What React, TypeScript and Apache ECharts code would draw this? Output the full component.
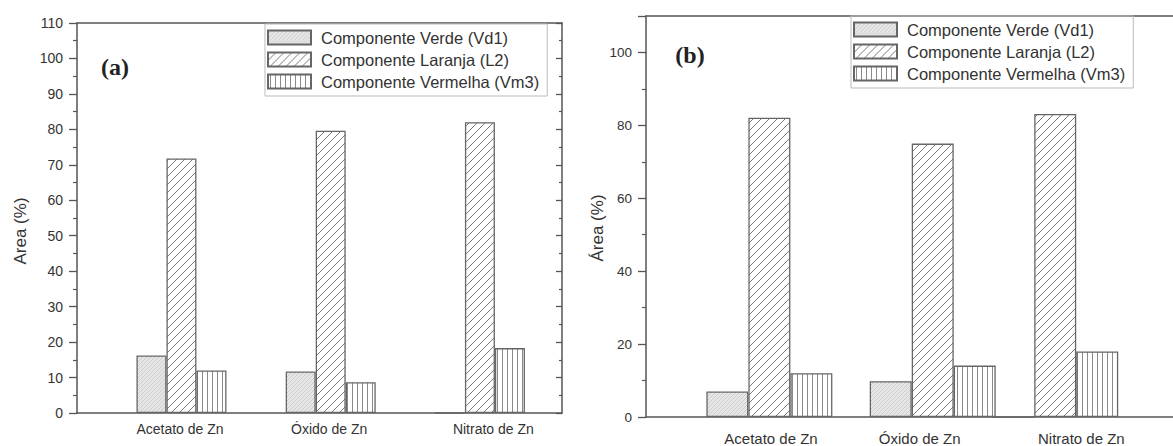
import React, { useEffect, useRef } from "react";
import * as echarts from "echarts";

// ---- data ----
const categories = ["Acetato de Zn", "Óxido de Zn", "Nitrato de Zn"];
const seriesNames = ["Componente Verde (Vd1)", "Componente Laranja (L2)", "Componente Vermelha (Vm3)"];

// panel (a)
const verdeA = [16.2, 11.7, 0];
const laranjaA = [71.8, 79.6, 82.0];
const vermelhaA = [12.0, 8.7, 18.3];
const groupXA = [1, 2, 3];

// panel (b)
const verdeB = [7.0, 9.8, 0];
const laranjaB = [82.1, 75.0, 83.1];
const vermelhaB = [12.0, 14.1, 18.0];
const groupXB = [1, 2, 2.75];

const yTicksA = [0, 110, 10];
const yTicksB = [0, 110, 20];

// ---- styles ----
const svgUrl = (s: string) => "data:image/svg+xml;charset=utf-8," + encodeURIComponent(s);
const patVerde = {
  image: svgUrl(
    "<svg xmlns='http://www.w3.org/2000/svg' width='4' height='4'><rect width='4' height='4' fill='#e6e6e6'/><path d='M0 4L4 0M-1 1L1 -1M3 5L5 3' stroke='#c6c6c6' stroke-width='0.8'/></svg>"
  ),
  repeat: "repeat",
  imageWidth: 4,
  imageHeight: 4,
};
const patLaranja = {
  image: svgUrl(
    "<svg xmlns='http://www.w3.org/2000/svg' width='8' height='8'><rect width='8' height='8' fill='#ffffff'/><path d='M0 8L8 0M-1 1L1 -1M7 9L9 7' stroke='#7a7a7a' stroke-width='1'/></svg>"
  ),
  repeat: "repeat",
  imageWidth: 8,
  imageHeight: 8,
};
const patVermelha = {
  image: svgUrl(
    "<svg xmlns='http://www.w3.org/2000/svg' width='5' height='5'><rect width='5' height='5' fill='#ffffff'/><path d='M2.5 0L2.5 5' stroke='#8a8a8a' stroke-width='1'/></svg>"
  ),
  repeat: "repeat",
  imageWidth: 5,
  imageHeight: 5,
};
const patterns = [patVerde, patLaranja, patVermelha];

const AXIS = "#555";
const TXT = "#333";
const FONT = "Liberation Sans, Arial, sans-serif";

const labelXA = [0.99, 1.99, 3.09];
const labelXB = [1.01, 1.92, 2.91];

function nearestName(v: number, arr: number[]) {
  for (let i = 0; i < arr.length; i++) if (Math.abs(arr[i] - v) < 1e-6) return categories[i];
  return "";
}

export default function App() {
  const ref = useRef<HTMLDivElement>(null);
  useEffect(() => {
    if (!ref.current) return;
    const chart = echarts.init(ref.current, null, { renderer: "svg" });

    const mkBars = (vals: number[][], xs: number[], xi: number, yi: number, w: number) =>
      vals.map((v, k) => ({
        type: "bar",
        name: seriesNames[k],
        xAxisIndex: xi,
        yAxisIndex: yi,
        barWidth: w,
        barGap: "0%",
        data: xs.map((x, i) => [x, v[i]]),
        itemStyle: { color: patterns[k], borderColor: "#666", borderWidth: 1.3 },
        emphasis: { disabled: true },
        silent: true,
      }));

    const frameX = (gi: number, min: number, max: number) => ({
      type: "value",
      gridIndex: gi,
      position: "top",
      min,
      max,
      axisLine: { show: true, onZero: false, lineStyle: { color: AXIS, width: 1.5 } },
      axisTick: { show: false },
      axisLabel: { show: false },
      splitLine: { show: false },
    });

    const legendBase = {
      orient: "vertical",
      icon: "rect",
      itemWidth: 43,
      itemHeight: 14,
      itemGap: 5,
      padding: [5, 8, 6, 2],
      borderColor: "#bbb",
      borderWidth: 1,
      selectedMode: false,
      data: seriesNames,
      textStyle: { fontSize: 16.5, color: TXT, fontFamily: FONT, padding: [0, 0, 0, 5] },
    };

    const titleStyle = {
      fontSize: 24,
      fontWeight: "bold",
      fontFamily: "Liberation Serif, Times New Roman, serif",
      fill: "#222",
      align: "center",
      verticalAlign: "middle",
    };

    chart.setOption({
      animation: false,
      grid: [
        { left: 77, top: 23, width: 485, height: 390 },
        { left: 646, top: 16, width: 534, height: 402 },
      ],
      legend: [
        { ...legendBase, left: 265, top: 24 },
        { ...legendBase, left: 851, top: 16 },
      ],
      xAxis: [
        {
          type: "value",
          gridIndex: 0,
          position: "bottom",
          min: 0.3,
          max: 3.55,
          axisLine: { show: true, onZero: false, lineStyle: { color: AXIS, width: 1.5 } },
          axisTick: { show: false },
          splitLine: { show: false },
          axisLabel: {
            customValues: labelXA,
            formatter: (v: number) => nearestName(v, labelXA),
            fontSize: 14,
            color: TXT,
            fontFamily: FONT,
            margin: 9,
          },
        },
        frameX(0, 0.3, 3.55),
        {
          type: "value",
          gridIndex: 1,
          position: "bottom",
          min: 0.2447,
          max: 3.471,
          axisLine: { show: true, onZero: false, lineStyle: { color: AXIS, width: 1.5 } },
          axisTick: { show: false },
          splitLine: { show: false },
          axisLabel: {
            customValues: labelXB,
            formatter: (v: number) => nearestName(v, labelXB),
            fontSize: 15,
            color: TXT,
            fontFamily: FONT,
            margin: 14,
          },
        },
        frameX(1, 0.2447, 3.471),
      ],
      yAxis: [
        {
          type: "value",
          gridIndex: 0,
          position: "left",
          min: yTicksA[0],
          max: yTicksA[1],
          interval: yTicksA[2],
          axisLine: { show: true, lineStyle: { color: AXIS, width: 1.5 } },
          axisTick: { show: true, length: 8, lineStyle: { color: AXIS, width: 1.3 } },
          minorTick: { show: true, splitNumber: 2, length: 4, lineStyle: { color: AXIS, width: 1.2 } },
          splitLine: { show: false },
          axisLabel: { fontSize: 14, color: TXT, fontFamily: FONT, margin: 14 },
        },
        {
          type: "value",
          gridIndex: 0,
          position: "right",
          min: yTicksA[0],
          max: yTicksA[1],
          interval: yTicksA[2],
          axisLine: { show: true, lineStyle: { color: AXIS, width: 1.5 } },
          axisTick: { show: true, inside: true, length: 6, lineStyle: { color: AXIS, width: 1.3 } },
          minorTick: { show: true, splitNumber: 2, length: 3, lineStyle: { color: AXIS, width: 1.2 } },
          splitLine: { show: false },
          axisLabel: { show: false },
        },
        {
          type: "value",
          gridIndex: 1,
          position: "left",
          min: yTicksB[0],
          max: yTicksB[1],
          interval: yTicksB[2],
          axisLine: { show: true, lineStyle: { color: AXIS, width: 1.5 } },
          axisTick: { show: true, length: 8, lineStyle: { color: AXIS, width: 1.3 } },
          minorTick: { show: true, splitNumber: 2, length: 4, lineStyle: { color: AXIS, width: 1.2 } },
          splitLine: { show: false },
          axisLabel: { fontSize: 13.5, color: TXT, fontFamily: FONT, margin: 14, showMaxLabel: false },
        },
      ],
      series: [
        ...mkBars([verdeA, laranjaA, vermelhaA], groupXA, 0, 0, 30),
        ...mkBars([verdeB, laranjaB, vermelhaB], groupXB, 2, 2, 42),
      ],
      graphic: [
        { type: "text", x: 115, y: 67, style: { ...titleStyle, text: "(a)" } },
        { type: "text", x: 690, y: 55, style: { ...titleStyle, text: "(b)" } },
        {
          type: "text",
          x: 20,
          y: 231,
          rotation: Math.PI / 2,
          style: { text: "Area (%)", fontSize: 17, fontFamily: FONT, fill: TXT, align: "center", verticalAlign: "middle" },
        },
        {
          type: "text",
          x: 597,
          y: 228,
          rotation: Math.PI / 2,
          style: { text: "Área (%)", fontSize: 17, fontFamily: FONT, fill: TXT, align: "center", verticalAlign: "middle" },
        },
      ],
    });
    return () => chart.dispose();
  }, []);
  return (
    <div
      ref={ref}
      style={{ position: "fixed", left: 0, top: 0, width: 1173, height: 446, background: "#fff" }}
    />
  );
}
